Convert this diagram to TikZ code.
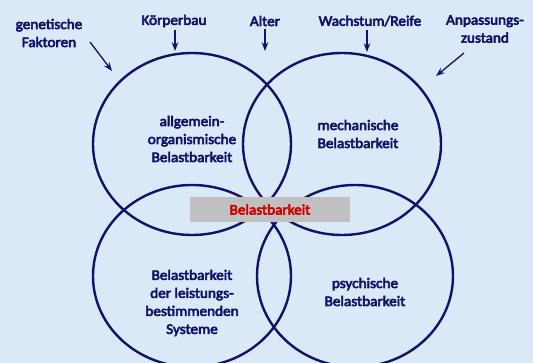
\documentclass[tikz,border=0pt]{standalone}
\usepackage{fontspec}
\setmainfont{Carlito}
\newfontfamily\calbold{Carlito}[FakeBold=4,FakeStretch=1.05]
\usetikzlibrary{arrows.meta,positioning}
\definecolor{navy}{HTML}{12126A}
\definecolor{bgblue}{HTML}{DAE8F8}
\definecolor{boxgray}{HTML}{C0C0C0}
\definecolor{txtred}{HTML}{D00000}

\begin{document}
\begin{tikzpicture}[>=Stealth,x=1pt,y=-1pt,
    lbl/.style={font=\calbold\fontsize{14.5}{18}\selectfont,text=navy,align=center,inner sep=0pt},
    ring/.style={draw=navy,line width=2.4pt},
    pointer/.style={->,draw=navy,line width=1.3pt}]
  \useasboundingbox (0,0) rectangle (533,363);
  \fill[bgblue] (0,0) rectangle (533,363);
  % the four circles
  \draw[ring] (192,144) ellipse [x radius=99pt, y radius=91pt];
  \draw[ring] (342,144) ellipse [x radius=99pt, y radius=91pt];
  \draw[ring] (192,276) ellipse [x radius=99pt, y radius=91pt];
  \draw[ring] (355,276) ellipse [x radius=98pt, y radius=91pt];
  % outer factors
  \node[lbl] (gen) at (49,33) {genetische\\Faktoren};
  \node[lbl] (koerper) at (174,21) {Körperbau};
  \node[lbl] (alter) at (265,21) {Alter};
  \node[lbl] (wachstum) at (370,21) {Wachstum/Reife};
  \node[lbl] (anpass) at (485,29) {Anpassungs-\\zustand};
  \coordinate (genend) at (112,71);
  \coordinate (koerperend) at (175,51);
  \coordinate (alterend) at (265,51);
  \coordinate (wachstumend) at (367,52);
  \coordinate (anpassend) at (436,76);
  \draw[pointer] (90,42) -- (genend);
  \draw[pointer] (koerper.south -| koerperend) ++(0,3) -- (koerperend);
  \draw[pointer] (alter.south -| alterend) ++(0,3) -- (alterend);
  \draw[pointer] (wachstum.south -| wachstumend) ++(0,3) -- (wachstumend);
  \draw[pointer] (464,53) -- (anpassend);
  % inner labels
  \node[lbl] (allg) at (192,139) {allgemein-\\organismische\\Belastbarkeit};
  \node[lbl] (mech) at (358,134) {mechanische\\Belastbarkeit};
  \node[lbl] (leist) at (192,303) {Belastbarkeit\\der leistungs-\\bestimmenden\\Systeme};
  \node[lbl] (psych) at (365,292) {psychische\\Belastbarkeit};
  \node[fill=boxgray,minimum width=160pt,minimum height=25pt,inner sep=0pt,
        font=\calbold\fontsize{14.5}{18}\selectfont,text=txtred] (belast) at (270,209.5) {Belastbarkeit};
\end{tikzpicture}
\end{document}
